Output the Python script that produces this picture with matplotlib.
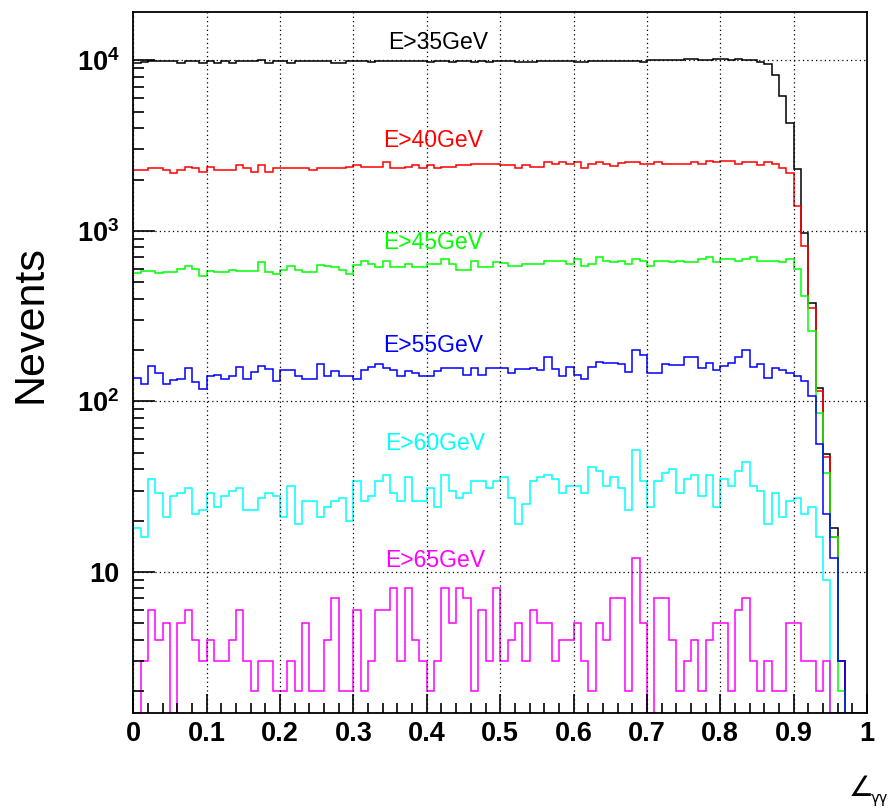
import numpy as np
import matplotlib.pyplot as plt
from matplotlib.ticker import MultipleLocator, LogLocator, FuncFormatter, NullFormatter

plt.rcParams['font.family'] = ['Liberation Sans', 'DejaVu Sans']
plt.rcParams['mathtext.fontset'] = 'custom'
plt.rcParams['mathtext.rm'] = 'Liberation Sans'
plt.rcParams['mathtext.bf'] = 'Liberation Sans:bold'

# 100 bins of width 0.01 on [0, 1]
edges = np.linspace(0, 1, 101)

labels = ['E>35GeV', 'E>40GeV', 'E>45GeV', 'E>55GeV', 'E>60GeV', 'E>65GeV']
colors = ['black', '#ff0000', '#00ff00', '#0000ff', '#00ffff', '#ff00ff']

e35 = [9650, 9750, 9930, 9930, 9930, 9930, 9700, 9930, 9930, 9700,
       9930, 9700, 9930, 9700, 9930, 9930, 9930, 10100, 9700, 9930,
       9930, 9700, 9930, 9930, 9930, 9930, 9930, 9700, 9700, 9950,
       9950, 9950, 9750, 9950, 9950, 9950, 9950, 9950, 9950, 9950,
       9750, 9950, 9950, 9750, 9950, 9950, 9750, 9950, 9750, 9950,
       9950, 9950, 9750, 9750, 9750, 9950, 9950, 9950, 9950, 9950,
       9750, 9750, 9950, 9950, 9950, 9950, 9950, 9950, 9950, 9750,
       10000, 10000, 10000, 10000, 10000, 10150, 10150, 10100, 10100, 10200,
       10200, 10050, 10150, 10000, 10000, 9760, 9500, 8220, 6140, 4315,
       2312, 970, 377, 120, 49, 18, 3, 0, 0, 0]

e40 = [2281, 2281, 2334, 2334, 2281, 2198, 2281, 2360, 2334, 2228,
       2360, 2281, 2281, 2281, 2437, 2334, 2228, 2437, 2228, 2334,
       2334, 2334, 2334, 2334, 2281, 2334, 2334, 2334, 2334, 2383,
       2437, 2383, 2383, 2383, 2540, 2334, 2334, 2383, 2437, 2334,
       2437, 2334, 2383, 2383, 2437, 2437, 2474, 2474, 2474, 2474,
       2437, 2437, 2334, 2437, 2383, 2383, 2517, 2474, 2517, 2474,
       2517, 2350, 2474, 2530, 2474, 2415, 2495, 2530, 2530, 2474,
       2474, 2530, 2474, 2474, 2474, 2474, 2530, 2474, 2576, 2530,
       2576, 2553, 2474, 2530, 2530, 2437, 2530, 2474, 2334, 2178,
       1407, 820, 352, 115, 47, 16, 3, 0, 0, 0]

e45 = [565, 582, 582, 565, 572, 577, 596, 618, 596, 547,
       585, 577, 577, 590, 585, 585, 585, 655, 577, 560,
       590, 618, 590, 577, 577, 631, 618, 613, 590, 560,
       631, 670, 640, 613, 670, 613, 613, 640, 613, 613,
       640, 640, 685, 640, 590, 590, 670, 613, 613, 655,
       652, 618, 618, 640, 640, 640, 670, 670, 670, 640,
       683, 618, 640, 701, 670, 655, 670, 640, 683, 670,
       618, 670, 670, 655, 670, 655, 655, 685, 701, 655,
       685, 683, 670, 685, 701, 670, 670, 670, 655, 685,
       596, 416, 257, 86, 38, 16, 2, 0, 0, 0]

e55 = [138, 126, 161, 146, 126, 133, 136, 156, 130, 119,
       141, 142, 135, 141, 159, 135, 149, 161, 154, 132,
       152, 152, 141, 135, 135, 165, 141, 150, 141, 141,
       135, 152, 159, 165, 157, 152, 141, 150, 146, 141,
       141, 150, 157, 156, 156, 142, 157, 142, 157, 157,
       157, 146, 154, 154, 157, 152, 183, 154, 140, 159,
       142, 135, 159, 171, 168, 168, 165, 149, 200, 186,
       146, 146, 165, 163, 163, 181, 181, 157, 168, 152,
       161, 168, 181, 200, 159, 165, 138, 157, 152, 146,
       141, 132, 107, 56, 22, 12, 3, 0, 0, 0]

e60 = [18, 16, 35, 29, 21, 28, 29, 31, 22, 23,
       29, 24, 28, 30, 31, 23, 23, 27, 29, 28,
       21, 32, 19, 26, 26, 21, 24, 26, 27, 20,
       34, 26, 28, 34, 37, 29, 26, 36, 26, 26,
       31, 24, 37, 30, 27, 29, 34, 34, 31, 34,
       36, 27, 19, 25, 34, 36, 37, 35, 29, 32,
       32, 29, 41, 39, 32, 36, 31, 23, 52, 34,
       24, 34, 38, 40, 29, 35, 37, 28, 37, 24,
       35, 32, 39, 44, 32, 30, 19, 29, 21, 26,
       27, 22, 24, 16, 9, 0, 0, 0, 0, 0]

e65 = [0, 3, 6, 4, 5, 0, 5, 6, 4, 3,
       4, 3, 3, 4, 6, 3, 2, 3, 3, 2,
       2, 3, 2, 5, 2, 2, 4, 7, 2, 2,
       6, 2, 3, 6, 6, 8, 3, 8, 4, 3,
       2, 3, 8, 5, 8, 7, 2, 6, 3, 8,
       3, 4, 5, 3, 6, 5, 5, 3, 4, 4,
       5, 3, 2, 5, 4, 7, 7, 2, 12, 5,
       0, 7, 7, 4, 2, 3, 4, 2, 4, 5,
       5, 2, 6, 7, 3, 2, 3, 2, 2, 5,
       5, 3, 3, 2, 3, 0, 0, 0, 0, 0]

series = [e35, e40, e45, e55, e60, e65]

ymin, ymax = 1.49, 19200

fig = plt.figure(figsize=(8.9, 8.09), dpi=100)
ax = fig.add_axes([0.1498, 0.1187, 0.8244, 0.8665])

for vals, col in zip(series, colors):
    # empty bins are drawn along the bottom of the frame, as ROOT does
    v = np.clip(np.array(vals, dtype=float), ymin, None)
    ax.stairs(v, edges, color=col, linewidth=1.1, baseline=None)

ax.set_yscale('log')
ax.set_xlim(0, 1)
ax.set_ylim(ymin, ymax)

ax.xaxis.set_major_locator(MultipleLocator(0.1))
ax.xaxis.set_minor_locator(MultipleLocator(0.02))
ax.xaxis.set_major_formatter(FuncFormatter(lambda v, p: f'{v:.1f}'.rstrip('0').rstrip('.') if v else '0'))
ax.yaxis.set_major_locator(LogLocator(base=10))
ax.yaxis.set_minor_locator(LogLocator(base=10, subs=np.arange(2, 10)))
ax.yaxis.set_minor_formatter(NullFormatter())


def ylab(v, p):
    n = int(round(np.log10(v)))
    if n == 1:
        return '10'
    return r'$\mathbf{10^{%d}}$' % n


ax.yaxis.set_major_formatter(FuncFormatter(ylab))

ax.tick_params(which='both', direction='in', top=False, right=False, width=1.2)
ax.tick_params(axis='x', which='major', length=14, labelsize=19.5, pad=6)
ax.tick_params(axis='x', which='minor', length=7)
ax.tick_params(axis='y', which='major', length=16, labelsize=19.5, pad=10)
ax.tick_params(axis='y', which='minor', length=8)
for lab in ax.get_xticklabels() + ax.get_yticklabels():
    lab.set_fontweight('bold')

ax.grid(True, which='major', color='black', linestyle=(0, (1, 2.5)), linewidth=0.9)

for s in ax.spines.values():
    s.set_linewidth(1.3)

# curve labels
label_pos = [(0.347, 0.957), (0.340, 0.817), (0.340, 0.6705),
             (0.340, 0.5235), (0.343, 0.385), (0.343, 0.218)]
for txt, col, (x, y) in zip(labels, colors, label_pos):
    ax.text(x, y, txt, color=col, fontsize=16.5, transform=ax.transAxes,
            ha='left', va='center')

fig.text(0.034, 0.60, 'Nevents', rotation=90, fontsize=31, ha='center', va='center')
fig.text(0.953, 0.016, '\u2220', fontsize=20, family='DejaVu Sans', ha='left', va='baseline')
fig.text(0.979, 0.007, '\u03b3\u03b3', fontsize=10.5, family='DejaVu Sans', ha='left', va='baseline')

fig.savefig('out.png', dpi=100)
